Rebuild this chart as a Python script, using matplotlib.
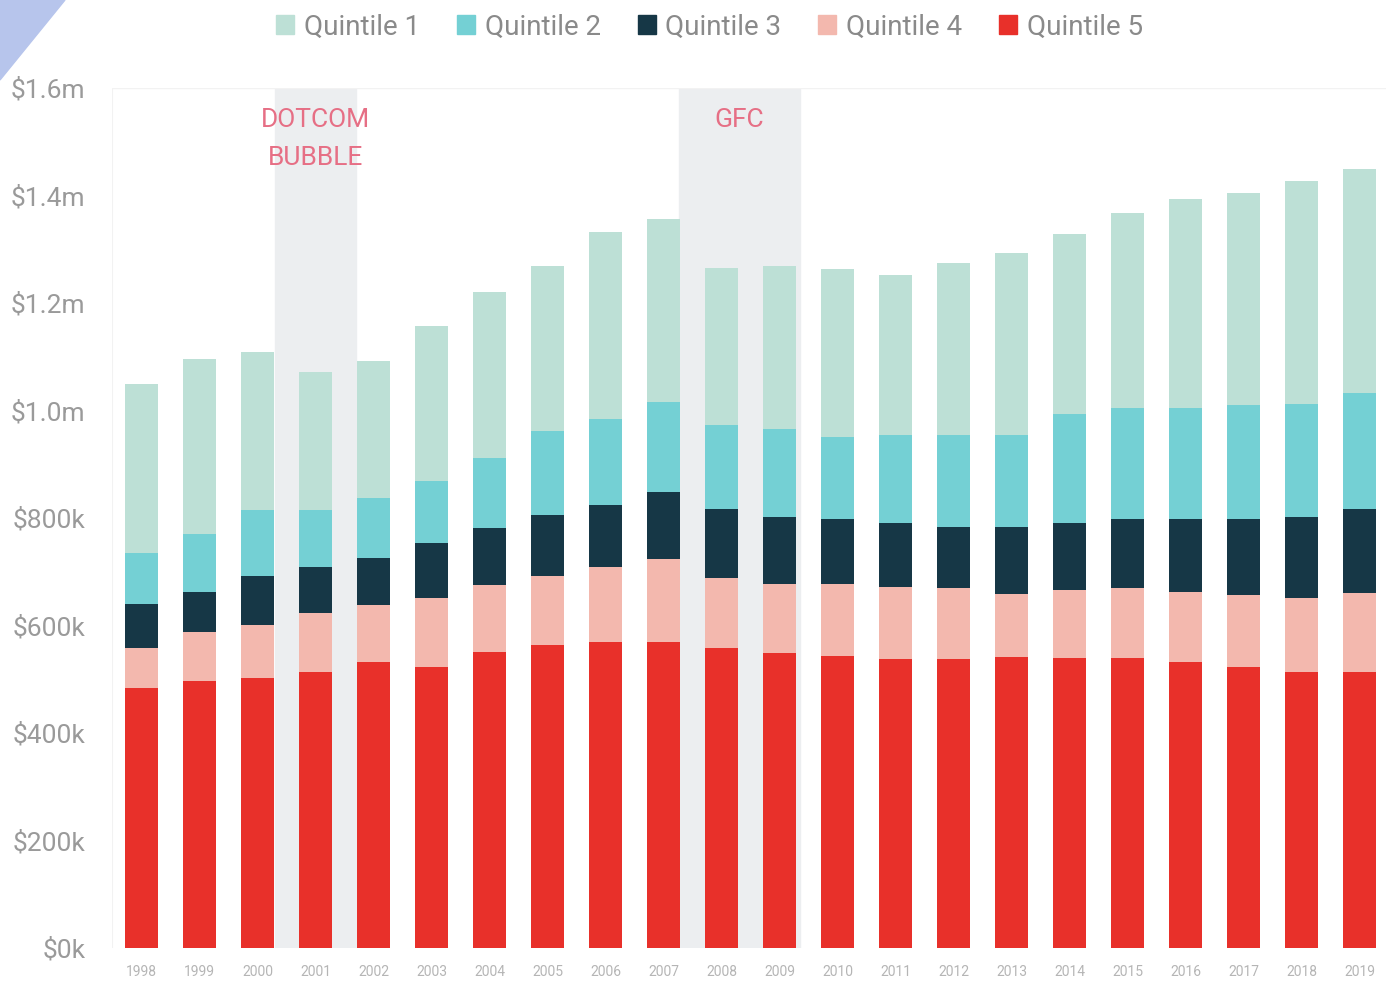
import matplotlib
matplotlib.use('Agg')
import matplotlib.pyplot as plt
from matplotlib.patches import Patch, Polygon
import numpy as np

plt.rcParams['font.family'] = ['Roboto', 'DejaVu Sans']

years = list(range(1998, 2020))

# values in $k (bottom segment first)
quintile_5 = [484, 497, 503, 514, 532, 522, 551, 564, 569, 569, 558, 548, 544, 538, 537, 542, 539, 539, 533, 522, 513, 514]
quintile_4 = [74, 91, 98, 110, 106, 129, 124, 128, 139, 154, 130, 129, 133, 134, 132, 117, 127, 130, 130, 135, 139, 147]
quintile_3 = [82, 75, 92, 85, 87, 102, 106, 114, 116, 126, 129, 125, 122, 118, 114, 125, 124, 129, 136, 141, 150, 155]
quintile_2 = [95, 108, 122, 106, 112, 116, 131, 155, 160, 166, 156, 164, 152, 164, 171, 171, 203, 207, 206, 212, 211, 216]
quintile_1 = [315, 324, 293, 256, 256, 289, 308, 308, 349, 341, 293, 302, 312, 299, 320, 338, 335, 362, 388, 394, 414, 417]

y_ticks = [0, 200, 400, 600, 800, 1000, 1200, 1400, 1600]
y_labels = ['$0k', '$200k', '$400k', '$600k', '$800k', '$1.0m', '$1.2m', '$1.4m', '$1.6m']

series = [
  ('Quintile 5', quintile_5, '#e8302a'),
  ('Quintile 4', quintile_4, '#f3b8ae'),
  ('Quintile 3', quintile_3, '#163746'),
  ('Quintile 2', quintile_2, '#74d0d4'),
  ('Quintile 1', quintile_1, '#bde0d6'),
]

fig = plt.figure(figsize=(13.86, 9.89), dpi=100)
ax = fig.add_axes([112 / 1386, 41 / 989, 1 - 112 / 1386, 860 / 989])

# recession shading
ax.axvspan(2000.3, 2001.7, color='#eceef0', zorder=0)
ax.axvspan(2007.27, 2009.35, color='#eceef0', zorder=0)

bottom = np.zeros(len(years))
for name, values, color in series:
  ax.bar(years, values, width=0.57, bottom=bottom, color=color, zorder=2)
  bottom += np.array(values)

note_color = '#e66f85'
ax.text(2001, 1540, 'DOTCOM', ha='center', va='center', fontsize=19, color=note_color, zorder=3)
ax.text(2001, 1470, 'BUBBLE', ha='center', va='center', fontsize=19, color=note_color, zorder=3)
ax.text(2008.3, 1540, 'GFC', ha='center', va='center', fontsize=19, color=note_color, zorder=3)

ax.set_xlim(1997.49, 2019.45)
ax.set_ylim(0, 1600)
ax.set_yticks(y_ticks)
ax.set_yticklabels(y_labels)
ax.set_xticks(years)
ax.set_xticklabels([str(y) for y in years])
ax.tick_params(axis='y', length=0, pad=19, labelsize=19, labelcolor='#9a9a9a')
ax.tick_params(axis='x', length=0, pad=12, labelsize=10, labelcolor='#b5b5b5')
for s in ax.spines.values():
  s.set_visible(False)
ax.axhline(1600, color='#f2f2f2', lw=1, zorder=1)
ax.axvline(1997.49, color='#f2f2f2', lw=1.5, zorder=1)

handles = [Patch(color=c, label=n) for n, v, c in reversed(series)]
fig.legend(handles=handles, loc='center', bbox_to_anchor=(0.512, 1 - 27 / 989), ncol=5,
           frameon=False, fontsize=20, handlelength=0.65, handleheight=0.65,
           handletextpad=0.35, columnspacing=1.33, labelcolor='#8a8a8a')

# blue corner mark
fig.patches.append(Polygon([[0, 1], [65 / 1386, 1], [0, 1 - 80 / 989]], closed=True,
                           transform=fig.transFigure, color='#b7c5ec', zorder=5))

plt.savefig('out.png', dpi=100)
